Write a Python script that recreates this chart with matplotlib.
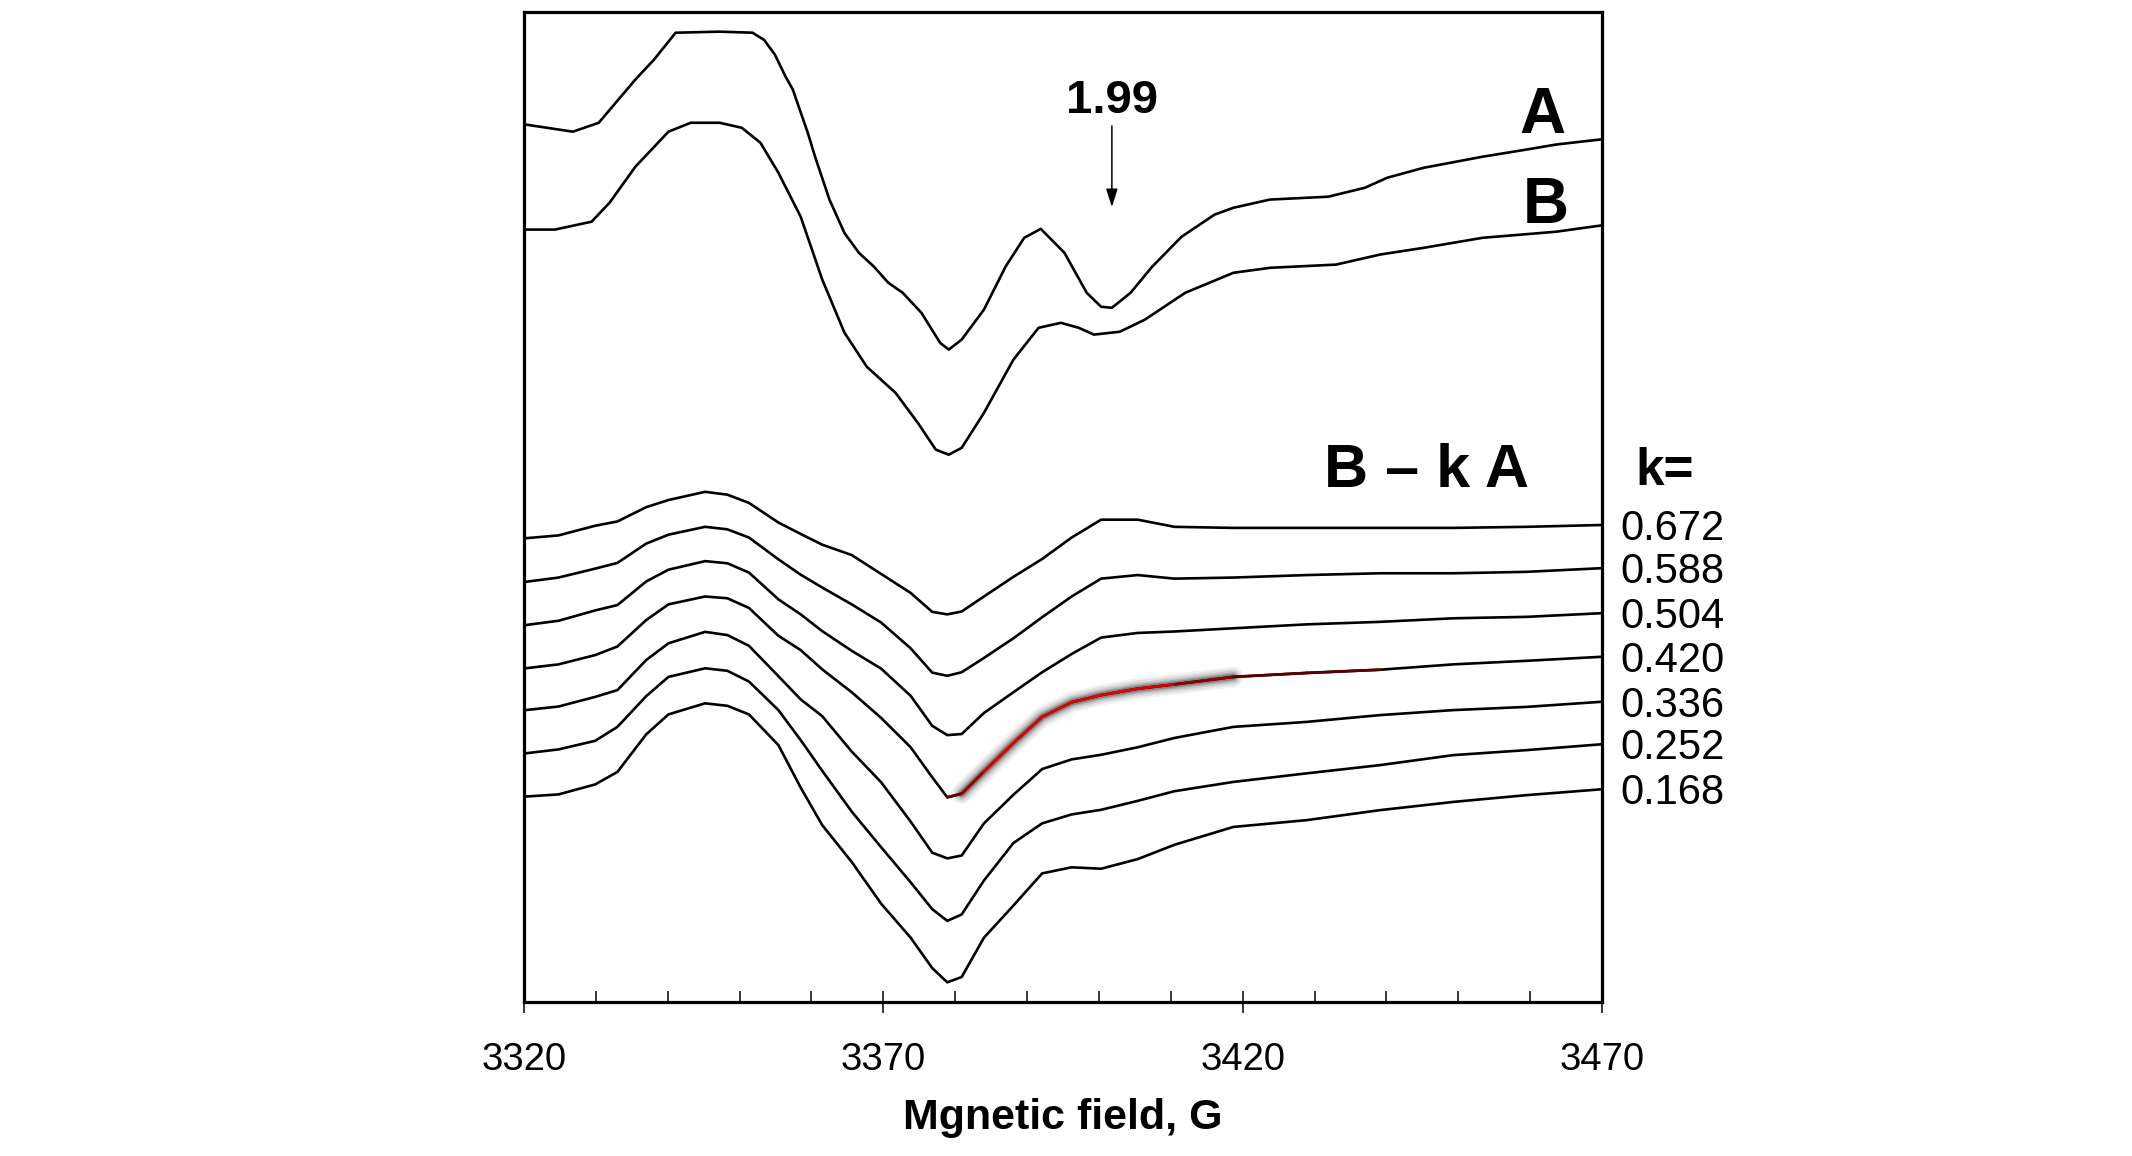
import numpy as np
import matplotlib
matplotlib.use("Agg")
import matplotlib.pyplot as plt
from matplotlib.collections import LineCollection
from matplotlib.ticker import MultipleLocator, FixedLocator

plt.rcParams['font.family'] = ['Liberation Sans', 'DejaVu Sans']

# ---------------- data (magnetic field in G, intensity in arbitrary units) ----------------
field_A = [3320.2, 3326.8, 3330.4, 3335.5, 3338.1, 3341.1, 3347.2, 3351.8, 3353.4, 3354.9,
           3356.4, 3357.4, 3359.5, 3360.5, 3362.5, 3364.6, 3366.6, 3368.7, 3370.7, 3372.7,
           3375.3, 3377.9, 3379.1, 3380.9, 3384.0, 3387.0, 3389.6, 3391.9, 3395.2, 3398.3,
           3400.3, 3401.8, 3404.4, 3407.4, 3411.5, 3416.1, 3418.7, 3423.8, 3431.9, 3437.0,
           3440.1, 3445.2, 3453.4, 3459.5, 3463.6, 3469.7]
spec_A = [2456, 2436, 2461, 2582, 2638, 2713, 2716, 2713, 2693, 2652,
          2590, 2554, 2432, 2366, 2246, 2152, 2097, 2058, 2013, 1985,
          1929, 1845, 1826, 1854, 1938, 2058, 2139, 2164, 2097, 1985,
          1946, 1943, 1985, 2058, 2142, 2204, 2223, 2246, 2254, 2279,
          2307, 2335, 2366, 2386, 2400, 2414]

field_B = [3320.2, 3324.3, 3329.4, 3331.9, 3335.5, 3340.1, 3343.2, 3347.2, 3350.3, 3352.9,
           3355.4, 3358.5, 3361.5, 3364.6, 3367.7, 3371.7, 3374.8, 3377.3, 3379.1, 3380.9,
           3384.0, 3388.1, 3391.6, 3394.7, 3397.2, 3399.3, 3402.9, 3406.4, 3412.0, 3418.7,
           3423.8, 3433.0, 3439.1, 3445.2, 3453.4, 3463.6, 3469.7]
spec_B = [2162, 2162, 2184, 2237, 2338, 2436, 2461, 2461, 2447, 2405,
          2321, 2198, 2022, 1873, 1778, 1705, 1621, 1546, 1532, 1551,
          1649, 1798, 1887, 1901, 1887, 1868, 1876, 1910, 1985, 2041,
          2055, 2064, 2092, 2111, 2139, 2156, 2173]

field_diff = [3320.2, 3324.8, 3329.9, 3333.0, 3337.0, 3340.1, 3345.2, 3348.3, 3351.3, 3355.4,
              3358.5, 3361.5, 3365.6, 3369.7, 3373.8, 3376.8, 3378.9, 3380.9, 3384.0, 3388.1,
              3392.1, 3396.2, 3400.3, 3405.4, 3410.5, 3418.7, 3428.9, 3439.1, 3449.3, 3459.5,
              3469.7]

diff_0672 = [1298, 1306, 1333, 1345, 1385, 1405, 1428, 1420, 1397, 1342, 1310, 1280, 1251, 1198,
             1145, 1092, 1085, 1093, 1135, 1190, 1240, 1300, 1350, 1350, 1330, 1327, 1327, 1327,
             1327, 1330, 1335]
diff_0588 = [1176, 1188, 1213, 1229, 1283, 1308, 1330, 1323, 1300, 1239, 1196, 1160, 1113, 1062,
             990, 922, 913, 923, 963, 1018, 1077, 1135, 1185, 1195, 1185, 1188, 1195, 1200,
             1200, 1204, 1214]
diff_0504 = [1055, 1067, 1096, 1111, 1177, 1210, 1234, 1228, 1202, 1127, 1085, 1038, 983, 933,
             857, 773, 747, 750, 809, 867, 923, 974, 1020, 1033, 1037, 1046, 1057, 1064,
             1074, 1078, 1088]
diff_0420 = [934, 945, 971, 995, 1069, 1113, 1135, 1130, 1103, 1025, 985, 931, 867, 795,
             713, 629, 573, 583, 645, 725, 798, 839, 859, 877, 889, 910, 921, 930,
             945, 955, 966]
diff_0336 = [817, 827, 854, 873, 957, 1004, 1036, 1027, 997, 912, 847, 800, 701, 615,
             505, 418, 402, 410, 500, 580, 652, 679, 692, 713, 739, 770, 784, 803,
             817, 826, 840]
diff_0252 = [696, 707, 731, 770, 856, 910, 934, 927, 897, 817, 733, 647, 533, 433,
             335, 260, 227, 245, 340, 445, 500, 525, 538, 563, 590, 616, 640, 663,
             691, 705, 721]
diff_0168 = [575, 581, 609, 644, 749, 805, 836, 829, 805, 719, 600, 495, 392, 275,
             180, 95, 55, 70, 180, 270, 360, 377, 373, 400, 440, 490, 509, 537,
             560, 579, 595]

k_labels = ["0.672", "0.588", "0.504", "0.420", "0.336", "0.252", "0.168"]
diff_series = [diff_0672, diff_0588, diff_0504, diff_0420, diff_0336, diff_0252, diff_0168]

highlight_label = "0.420"
highlight_range = (3378.9, 3439.1)

x_major = [3320, 3370, 3420, 3470]

# ---------------- figure ----------------
fig = plt.figure(figsize=(21.32, 11.56), dpi=100)
ax = fig.add_axes([0.24578, 0.13322, 0.50563, 0.8564])

lw_curve = 1.9
ax.plot(field_A, spec_A, color='black', lw=lw_curve, solid_joinstyle='round')
ax.plot(field_B, spec_B, color='black', lw=lw_curve, solid_joinstyle='round')
for series in diff_series:
    ax.plot(field_diff, series, color='black', lw=lw_curve, solid_joinstyle='round')

# red highlighted segment with soft dark glow
hx = np.array(field_diff)
hy = np.array(diff_series[k_labels.index(highlight_label)], dtype=float)
mask = (hx >= highlight_range[0]) & (hx <= highlight_range[1])
sx, sy = hx[mask], hy[mask]
inner = slice(1, len(sx) - 2)
for w, a in [(15, 0.05), (12, 0.07), (9, 0.10), (6.5, 0.15), (4.5, 0.22)]:
    ax.plot(sx[inner], sy[inner], color='black', lw=w, alpha=a, solid_capstyle='round',
            solid_joinstyle='round', zorder=3)
pts = np.column_stack([sx, sy])
segs = np.stack([pts[:-1], pts[1:]], axis=1)
t = np.linspace(0, 1, len(segs))
wgt = np.clip(np.sin(np.pi * np.clip(t * 1.15, 0, 1)) * 1.6, 0, 1)
cols = [(0.35 + 0.55 * w_, 0.0, 0.0, 1.0) for w_ in wgt]
lc = LineCollection(segs, colors=cols, linewidths=2.0, zorder=4, capstyle='round',
                    joinstyle='round')
ax.add_collection(lc)

ax.set_xlim(3320, 3470)
ax.set_ylim(0, 2771)
ax.set_yticks([])
ax.xaxis.set_major_locator(FixedLocator(x_major))
ax.xaxis.set_minor_locator(MultipleLocator(10))
ax.tick_params(axis='x', which='major', direction='inout', length=15.8, width=1.1,
               pad=21, labelsize=27.5, colors='black')
ax.tick_params(axis='x', which='minor', direction='in', length=7.6, width=1.1)
ax.tick_params(axis='x', which='both', top=False)
for s in ax.spines.values():
    s.set_linewidth(2.3)

# x label
ax.annotate("Mgnetic field, G", xy=(0.5, 0), xycoords='axes fraction',
            xytext=(0, -91.4), textcoords='offset points', ha='center', va='baseline',
            fontsize=31, fontweight='bold', annotation_clip=False)

# annotations
ax.text(3401.8, 2489, "1.99", ha='center', va='baseline', fontsize=34, fontweight='bold')
ax.annotate("", xy=(3401.8, 2225), xytext=(3401.8, 2452),
            arrowprops=dict(arrowstyle='-|>,head_length=1.1,head_width=0.35',
                            color='black', lw=1.1, shrinkA=0, shrinkB=0))
ax.text(3461.7, 2433, "A", ha='center', va='baseline', fontsize=46, fontweight='bold')
ax.text(3462.2, 2180, "B", ha='center', va='baseline', fontsize=46, fontweight='bold')
ax.text(3445.6, 1442, "B \u2013 k A", ha='center', va='baseline', fontsize=44, fontweight='bold')
ax.text(3474.6, 1447, "k=", ha='left', va='baseline', fontsize=37, fontweight='bold',
        clip_on=False)

for lab, series in zip(k_labels, diff_series):
    ax.annotate(lab, xy=(3472.5, series[-1]), xycoords='data',
                xytext=(0, -10.8), textcoords='offset points', ha='left', va='baseline',
                fontsize=30, annotation_clip=False)

fig.savefig("out.png", dpi=100, facecolor='white')
